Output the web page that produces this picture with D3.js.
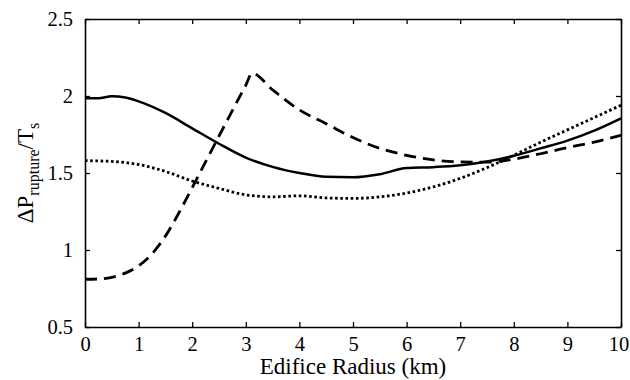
<!DOCTYPE html>
<html>
<head>
<meta charset="utf-8">
<script src="https://cdn.jsdelivr.net/npm/d3@7"></script>
<style>
  body { margin: 0; background: #fff; }
  svg text { font-family: "Liberation Serif", "DejaVu Serif", "Times New Roman", Times, serif !important; fill: #000; }
</style>
</head>
<body>
<svg id="chart" width="630" height="380"></svg>
<script>
// Data
const xSolid  = [0, 0.25, 0.5, 0.75, 1, 1.5, 2, 2.5, 3, 3.5, 4, 4.5, 5, 5.5, 6, 6.5, 7, 7.5, 8, 8.5, 9, 9.5, 10];
const ySolid  = [1.985, 1.985, 1.998, 1.99, 1.965, 1.89, 1.79, 1.69, 1.60, 1.54, 1.50, 1.475, 1.472, 1.492, 1.532, 1.538, 1.55, 1.575, 1.612, 1.66, 1.71, 1.775, 1.855];

const xDashed = [0, 0.25, 0.5, 0.75, 1, 1.25, 1.5, 1.75, 2, 2.5, 3, 3.12, 3.5, 4, 4.5, 5, 5.5, 6, 6.5, 7, 7.5, 8, 8.5, 9, 9.5, 10];
const yDashed = [0.81, 0.812, 0.823, 0.85, 0.897, 0.975, 1.09, 1.24, 1.405, 1.74, 2.07, 2.148, 2.04, 1.91, 1.82, 1.73, 1.66, 1.615, 1.585, 1.572, 1.57, 1.59, 1.625, 1.665, 1.70, 1.745];

const xDotted = [0, 0.5, 1, 1.5, 2, 2.5, 3, 3.5, 4, 4.5, 5, 5.5, 6, 6.5, 7, 7.5, 8, 8.5, 9, 9.5, 10];
const yDotted = [1.58, 1.575, 1.555, 1.51, 1.448, 1.40, 1.358, 1.345, 1.352, 1.338, 1.335, 1.345, 1.37, 1.41, 1.465, 1.535, 1.615, 1.70, 1.78, 1.86, 1.94];

const xTicks = [0, 1, 2, 3, 4, 5, 6, 7, 8, 9, 10];
const yTicks = [0.5, 1, 1.5, 2, 2.5];
const xTickLabels = ["0", "1", "2", "3", "4", "5", "6", "7", "8", "9", "10"];
const yTickLabels = ["0.5", "1", "1.5", "2", "2.5"];

const FONT = "'Liberation Serif', 'DejaVu Serif', 'Times New Roman', serif";
const svg = d3.select("#chart");
const L = 85, R = 621, T = 19, B = 327;
const x = d3.scaleLinear().domain([0, 10]).range([L, R]);
const y = d3.scaleLinear().domain([0.5, 2.5]).range([B, T]);

const line = d3.line().x(d => x(d[0])).y(d => y(d[1])).curve(d3.curveMonotoneX);
const zip = (a, b) => a.map((v, i) => [v, b[i]]);

svg.append("path").datum(zip(xSolid, ySolid)).attr("d", line)
  .attr("fill", "none").attr("stroke", "#000").attr("stroke-width", 2.5);
svg.append("path").datum(zip(xDashed, yDashed)).attr("d", line)
  .attr("fill", "none").attr("stroke", "#000").attr("stroke-width", 2.8)
  .attr("stroke-dasharray", "12,7");
svg.append("path").datum(zip(xDotted, yDotted)).attr("d", line)
  .attr("fill", "none").attr("stroke", "#000").attr("stroke-width", 2.8)
  .attr("stroke-dasharray", "2.6,2.6");

// Axes (box with inward ticks)
const tickLen = 5;
const axB = d3.axisBottom(x).tickValues(xTicks).tickSizeInner(-tickLen).tickSizeOuter(0).tickFormat((d, i) => xTickLabels[i]).tickPadding(9);
const axT = d3.axisTop(x).tickValues(xTicks).tickSizeInner(-tickLen).tickSizeOuter(0).tickFormat("");
const axL = d3.axisLeft(y).tickValues(yTicks).tickSizeInner(-tickLen).tickSizeOuter(0).tickFormat((d, i) => yTickLabels[i]).tickPadding(12);
const axR = d3.axisRight(y).tickValues(yTicks).tickSizeInner(-tickLen).tickSizeOuter(0).tickFormat("");

const gB = svg.append("g").attr("transform", `translate(0,${B})`).call(axB);
const gT = svg.append("g").attr("transform", `translate(0,${T})`).call(axT);
const gL = svg.append("g").attr("transform", `translate(${L},0)`).call(axL);
const gR = svg.append("g").attr("transform", `translate(${R},0)`).call(axR);

[gB, gT, gL, gR].forEach(g => {
  g.attr("font-family", FONT).attr("font-size", 20.5);
  g.select(".domain").attr("stroke", "#000").attr("stroke-width", 1.6);
  g.selectAll(".tick line").attr("stroke", "#000").attr("stroke-width", 1.3);
  g.selectAll("text").attr("fill", "#000");
});
// keep the last x label inside the picture
gB.selectAll(".tick text").filter(d => d === 10).attr("dx", -2.5);

// X label
svg.append("text").attr("x", (L + R) / 2).attr("y", 374).attr("text-anchor", "middle")
  .attr("font-family", FONT).attr("font-size", 23).text("Edifice Radius (km)");

// Y label
const yl = svg.append("text").attr("transform", `translate(33,${(T + B) / 2}) rotate(-90)`)
  .attr("text-anchor", "middle").attr("font-family", FONT).attr("font-size", 23);
yl.append("tspan").text("ΔP");
yl.append("tspan").attr("dy", 6).attr("font-size", 16).text("rupture");
yl.append("tspan").attr("dy", -6).text("/T");
yl.append("tspan").attr("dy", 6).attr("font-size", 16).text("s");
</script>
</body>
</html>
